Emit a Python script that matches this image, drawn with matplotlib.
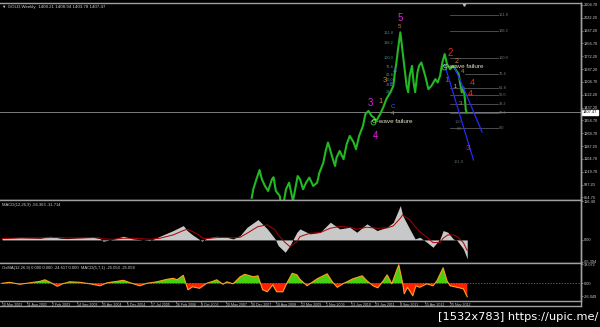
import numpy as np
import matplotlib.pyplot as plt
from matplotlib.lines import Line2D
import matplotlib.transforms as mtransforms

plt.rcParams['font.family'] = ['Liberation Sans', 'DejaVu Sans']

# ---- data (x = weekly bar index, 0 = 10 Mar 2002) ----
price_bars = [321, 323, 327, 331, 334, 338, 342, 347, 349, 352,
              357, 360, 365, 369, 374, 380, 383, 387, 391, 395,
              400, 405, 408, 413, 416, 419, 424, 428, 430, 434,
              439, 443, 447, 452, 455, 459, 464, 467, 471, 475,
              478, 481, 486, 490, 494, 499, 503, 505, 507, 509,
              512, 514, 516, 518, 520, 522, 524, 527, 529, 531,
              534, 536, 539, 544, 548, 552, 557, 560, 563, 566,
              569, 572, 576, 580, 584, 587, 589, 591, 593, 595,
              596, 597]
price = [852, 907, 972, 1032, 972, 928, 896, 972, 985, 896,
         863, 760, 907, 950, 830, 993, 972, 907, 952, 983,
         928, 950, 1015, 1080, 1156, 1211, 1124, 1058, 1113, 1156,
         1102, 1200, 1254, 1211, 1167, 1254, 1319, 1395, 1416, 1384,
         1373, 1351, 1395, 1439, 1493, 1536, 1579, 1668, 1733, 1818,
         1927, 1840, 1753, 1668, 1579, 1538, 1644, 1709, 1601, 1538,
         1666, 1709, 1731, 1644, 1558, 1579, 1623, 1601, 1644, 1731,
         1786, 1720, 1688, 1709, 1677, 1655, 1590, 1536, 1569, 1493,
         1428, 1407]
last_price = 1407.47

price_ticks = [2104.70, 2022.20, 1937.20, 1856.70, 1772.20, 1687.20, 1606.70, 1522.20,
               1437.20, 1354.70, 1269.70, 1187.20, 1104.70, 1019.70, 937.20, 854.70]

macd_bars = [0, 23, 49, 62, 75, 84, 104, 117, 126, 130,
             143, 156, 168, 190, 203, 220, 233, 238, 245, 254,
             257, 263, 276, 289, 297, 306, 315, 329, 341, 351,
             355, 364, 370, 379, 383, 396, 409, 422, 434, 447,
             456, 469, 482, 495, 503, 512, 515, 524, 531, 537,
             546, 554, 563, 567, 573, 580, 585, 593, 598]
macd_main = [5, 7, 5, 11, 5, 4, 7, 8, 4, -4,
             2, 11, 3, -2, 11, 28, 43, 28, 15, 1,
             -4, 5, 11, 8, 3, 13, 38, 61, 33, 3,
             -17, -37, -17, 23, 33, 18, 23, 53, 33, 38,
             23, 48, 28, 38, 53, 103, 73, 33, 3, 8,
             -7, -22, 3, 28, 23, 3, -2, -27, -57]
macd_signal = [4, 6, 6, 7, 7, 6, 6, 7, 6, 3,
               2, 5, 5, 2, 5, 15, 28, 32, 25, 14,
               6, 4, 7, 8, 6, 8, 20, 40, 45, 30,
               15, -8, -20, -5, 10, 20, 22, 35, 40, 38,
               32, 38, 35, 36, 42, 65, 75, 60, 40, 25,
               8, -8, -8, 5, 15, 15, 10, -8, -32]

osma_bars = [0, 10, 23, 36, 49, 55, 62, 71, 78, 87,
             100, 113, 126, 135, 148, 156, 165, 177, 186, 199,
             212, 220, 225, 233, 239, 245, 254, 263, 271, 276,
             284, 289, 297, 306, 312, 323, 329, 335, 341, 348,
             353, 361, 366, 373, 379, 383, 392, 405, 418, 425,
             431, 438, 451, 463, 469, 477, 483, 490, 495, 501,
             508, 510, 515, 517, 521, 524, 528, 532, 537, 546,
             554, 559, 567, 572, 576, 585, 593, 598]
osma = [0, 2, -2, 1, 4, 7, 2, -6, -1, 3,
        2, -1, -5, 1, 4, 6, 1, -5, 0, 3,
        8, 10, 7, 16, -13, -7, -10, 0, 4, 7,
        -2, 3, -1, 13, 18, 13, 15, -13, -17, -3,
        -17, -17, 0, 20, 17, 8, -5, 9, 19, 2,
        -8, -1, 9, 15, 5, -5, -9, 5, 17, -1,
        29, 37, 0, -21, -8, -15, -25, -5, -8, -1,
        -5, 5, 31, 5, -5, -8, -11, -27]

date_labels = ["10 Mar 2002", "11 Aug 2002", "2 Feb 2003", "14 Sep 2003", "25 Apr 2004",
               "5 Dec 2004", "17 Jul 2005", "26 Feb 2006", "8 Oct 2006", "20 May 2007",
               "30 Dec 2007", "10 Aug 2008", "22 Mar 2009", "1 Nov 2009", "13 Jun 2010",
               "23 Jan 2011", "4 Sep 2011", "15 Apr 2012", "25 Nov 2012"]
bars_per_label = 32

fib_names = ["161.8", "138.2", "100.0", "76.4", "61.8", "50.0", "38.2", "23.6", "0.0"]
fib_prices = [2040, 1936, 1762, 1655, 1568, 1518, 1460, 1403, 1302]
fib_start = [576, 576, 576, 595, 576, 576, 576, 576, 576]

left_fib_names = ["161.8", "138.2", "100.0", "76.4", "61.8", "50.0", "38.2", "23.6"]
left_fib_prices = [1921, 1856, 1758, 1704, 1650, 1617, 1585, 1541]

# Elliott wave marks: (text, bar, price, colour, size)
wave_marks = [
    ("5", 512, 2018, "#e020e0", 7), ("5", 511, 1962, "#d08030", 4.5),
    ("3", 473, 1470, "#e020e0", 7), ("4", 480, 1253, "#e020e0", 7),
    ("1", 486, 1476, "#d08030", 5.5), ("3", 492, 1617, "#d08030", 5.5),
    ("4", 502, 1401, "#d08030", 4.5), ("C", 502, 1443, "#5050ff", 4.5),
    ("B", 501, 1590, "#5050ff", 4.5), ("A", 505, 1682, "#5050ff", 4.5),
    ("2", 576, 1790, "#ff2020", 7), ("2", 584, 1736, "#d08030", 5),
    ("4", 592, 1671, "#d08030", 4.5), ("1", 572, 1617, "#ff2020", 6),
    ("4", 604, 1602, "#ff2020", 6.5), ("4", 602, 1531, "#ff2020", 6.5),
    ("3", 599, 1175, "#ff2050", 6), ("3", 589, 1466, "#d08030", 4.5),
    ("1", 582, 1574, "#c0c0c0", 4),
]
failure_marks = [(477, 1346), (568, 1703)]

channel_left_bars = [569, 606]
channel_left_prices = [1715, 1097]
channel_right_bars = [582, 597, 617]
channel_right_prices = [1695, 1520, 1279]

W, H = 600, 327
AX_W = 581
GRID = "#a0a0a0"
TXT = "#d0d0d0"


def rect(top, bottom):
    return [0, 1 - bottom / H, AX_W / W, (bottom - top) / H]


def style_panel(ax, ticks, labels, lo, hi):
    ax.set_facecolor("black")
    ax.set_xlim(-2.6, 744.2)
    ax.set_ylim(lo, hi)
    for s in ax.spines.values():
        s.set_color(GRID)
        s.set_linewidth(1.0)
    ax.spines["left"].set_visible(False)
    ax.yaxis.tick_right()
    ax.set_yticks(ticks)
    ax.set_yticklabels(labels)
    ax.tick_params(axis="y", colors=GRID, labelcolor=TXT, labelsize=2.8,
                   length=1.2, width=0.5, pad=0.6)
    ax.set_xticks([])


fig = plt.figure(figsize=(6, 3.27), dpi=100, facecolor="black")

# ---- price panel ----
ax = fig.add_axes(rect(3, 199.5))
style_panel(ax, price_ticks, ["%.2f" % v for v in price_ticks], 840.4, 2117.7)
ax.axhline(last_price, color="#909090", lw=0.6)
ax.plot(price_bars, price, color="#22b822", lw=1.5)

for name, p, b0 in zip(fib_names, fib_prices, fib_start):
    ax.plot([b0, 637], [p, p], color="#6a6a6a", lw=0.5)
    ax.text(639, p, name, color="#7a7a7a", fontsize=2.8, va="center")
for name, p in zip(left_fib_names, left_fib_prices):
    ax.text(503, p, name, color="#3f8f8f", fontsize=2.8, va="center", ha="right")
ax.text(590, 1346, "100", color="#5a6a6a", fontsize=2.8, va="center", ha="right")
ax.text(591, 1298, "0.0", color="#5a6a6a", fontsize=2.8, va="center", ha="right")
ax.text(593, 1086, "161.8", color="#5a6a6a", fontsize=2.8, va="center", ha="right")

ax.plot(channel_left_bars, channel_left_prices, color="#2828ff", lw=0.9)
ax.plot(channel_right_bars, channel_right_prices, color="#2828ff", lw=0.9)

for t, b, p, c, s in wave_marks:
    ax.text(b, p, t, color=c, fontsize=s, ha="center", va="center")
for b, p in failure_marks:
    ax.plot(b, p, "o", ms=3.5, mfc="none", mec="#30d030", mew=0.6)
    ax.text(b - 1, p, "C-wave failure", color="#e8e0c8", fontsize=4.6, va="center")

ax.text(0.004, 0.988, "\u25bc GOLD,Weekly  1408.21 1408.94 1403.78 1407.47",
        transform=ax.transAxes, va="top", fontsize=3.2, color=TXT)
trans = mtransforms.blended_transform_factory(ax.transAxes, ax.transData)
ax.text(1.003, last_price, "%.2f" % last_price, transform=trans, fontsize=2.8,
        color="black", va="center", ha="left",
        bbox=dict(boxstyle="square,pad=0.15", fc="white", ec="white"))
ax.plot([594], [0.995], marker="v", ms=2.5, color="#c0c0c0",
        transform=mtransforms.blended_transform_factory(ax.transData, ax.transAxes))

# ---- MACD panel ----
ax2 = fig.add_axes(rect(199.5, 263.3))
style_panel(ax2, [116.49, 0, -65.394], ["116.49", "0.00", "-65.394"], -70, 121)
ax2.fill_between(macd_bars, macd_main, 0, color="#c8c8c8", lw=0)
ax2.plot(macd_bars, macd_signal, color="#b00000", lw=0.7)
ax2.text(0.004, 0.95, "MACD(12,26,9) -56.363 -31.714", transform=ax2.transAxes,
         va="top", fontsize=3.0, color=TXT)

# ---- OsMA panel ----
ax3 = fig.add_axes(rect(263.3, 301))
style_panel(ax3, [38.072, 0, -26.049], ["38.072", "0.00", "-26.049"], -35.4, 40)
ax3.axhline(0, color="#808080", lw=0.5, ls=(0, (2, 2)))
ob = np.array(osma_bars)
ov = np.array(osma)
ax3.fill_between(ob, ov, 0, where=ov >= 0, interpolate=True, color="#48d010", lw=0)
ax3.fill_between(ob, ov, 0, where=ov <= 0, interpolate=True, color="#ff2000", lw=0)
ax3.plot(ob, ov, color="#ffa020", lw=0.8)
ax3.text(0.004, 0.93, "OsMA(12,26,9) 0.000 0.000 -24.617 0.000  MACD(5,7,1) -25.050 -25.058",
         transform=ax3.transAxes, va="top", fontsize=3.0, color=TXT)

label_bars = [i * bars_per_label for i in range(len(date_labels))]
ax3.set_xticks(label_bars)
ax3.set_xticklabels(date_labels, ha="left")
ax3.tick_params(axis="x", colors=GRID, labelcolor=TXT, labelsize=2.6,
                length=1.2, width=0.5, pad=0.3)

fig.add_artist(Line2D([0, AX_W / W], [1 - 306 / H] * 2, transform=fig.transFigure,
                      color=GRID, lw=1.0))
fig.add_artist(Line2D([AX_W / W] * 2, [1 - 306 / H, 1 - 3 / H], transform=fig.transFigure,
                      color=GRID, lw=1.0))

fig.text(0.997, 1 - 317 / H, "[1532x783] https://upic.me/", ha="right", va="center",
         color="white", fontsize=8.2, family="DejaVu Sans")

fig.savefig("out.png", dpi=100, facecolor="black")
